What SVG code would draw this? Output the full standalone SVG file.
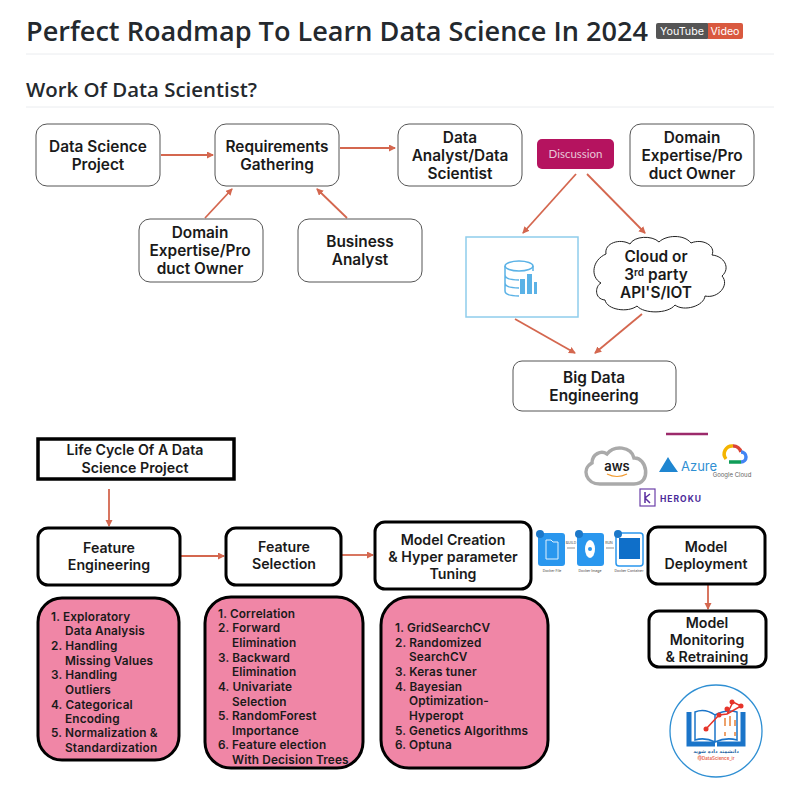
<svg xmlns="http://www.w3.org/2000/svg" width="800" height="800" viewBox="0 0 800 800">
<style>
text{font-family:"Inter","Liberation Sans","Noto Sans CJK SC",sans-serif;fill:#1a1a1a}
.h{font-family:"Open Sans","Liberation Sans",sans-serif;font-weight:600;fill:#24292e}
.t{font-size:15.4px;font-weight:600;text-anchor:middle}
.u{font-size:14.2px}
.l{font-size:11.8px;font-weight:600;letter-spacing:.15px}
.n1{fill:#fff;stroke:#555;stroke-width:1}
.n2{fill:#fff;stroke:#000;stroke-width:3}
.p{fill:#f086a6;stroke:#000;stroke-width:3}
.c{fill:none;stroke:#d4674f;stroke-width:1.800;marker-end:url(#a)}
.rule{stroke:#eaecef;stroke-width:1}
.s{font-size:3.5px;text-anchor:middle;fill:#444}
</style>
<defs>
<marker id="a" markerWidth="8" markerHeight="8" refX="6" refY="3.500" orient="auto" markerUnits="userSpaceOnUse"><path d="M0 0L7 3.500L0 7Z" fill="#d4674f"/></marker>
</defs>
<rect width="800" height="800" fill="#fff"/>
<g id="header">
<text class="h" x="26" y="41" font-size="27.500" textLength="622" lengthAdjust="spacingAndGlyphs">Perfect Roadmap To Learn Data Science In 2024</text>
<rect x="656" y="23" width="53" height="16" rx="2" fill="#555"/>
<path d="M708 23h33a2 2 0 0 1 2 2v12a2 2 0 0 1-2 2h-33z" fill="#d9593f"/>
<text x="682" y="35" font-size="10.500" text-anchor="middle" style="fill:#fff" textLength="44" lengthAdjust="spacingAndGlyphs">YouTube</text>
<text x="725" y="35" font-size="10.500" text-anchor="middle" style="fill:#fff" textLength="29" lengthAdjust="spacingAndGlyphs">Video</text>
<line class="rule" x1="26" y1="54" x2="774" y2="54"/>
<text class="h" x="26" y="97" font-size="20" textLength="231" lengthAdjust="spacingAndGlyphs">Work Of Data Scientist?</text>
<line class="rule" x1="26" y1="107" x2="774" y2="107"/>
</g>
<g id="connectors">
<line class="c" x1="161" y1="155" x2="213" y2="155"/>
<line class="c" x1="340" y1="148" x2="395" y2="148"/>
<line class="c" x1="205" y1="218" x2="232" y2="189"/>
<line class="c" x1="347" y1="218" x2="317" y2="189"/>
<line class="c" x1="576" y1="174" x2="523" y2="233"/>
<line class="c" x1="587" y1="174" x2="645" y2="233"/>
<line class="c" x1="515" y1="319" x2="575" y2="353"/>
<line class="c" x1="642" y1="314" x2="595" y2="353"/>
<line class="c" x1="109" y1="489" x2="109" y2="526"/>
<line class="c" x1="181" y1="556" x2="224" y2="556"/>
<line class="c" x1="342" y1="555" x2="373" y2="555"/>
<line class="c" x1="708" y1="585" x2="708" y2="609"/>
</g>
<g id="data-science-project"><rect class="n1" x="36" y="124" width="124" height="62" rx="11"/><text class="t" x="98" y="152">Data Science</text><text class="t" x="98" y="170">Project</text></g>
<g id="requirements"><rect class="n1" x="215" y="124" width="124" height="62" rx="11"/><text class="t" x="277" y="152">Requirements</text><text class="t" x="277" y="170">Gathering</text></g>
<g id="analyst"><rect class="n1" x="398" y="124" width="124" height="62" rx="11"/><text class="t" x="460" y="143">Data</text><text class="t" x="460" y="161">Analyst/Data</text><text class="t" x="460" y="179">Scientist</text></g>
<g id="discussion"><rect x="537" y="139" width="77" height="30" rx="5" fill="#b5135f"/><text x="575.500" y="158" font-size="11.500" text-anchor="middle" style="fill:#e8c7d8;font-family:'Lato','Liberation Sans',sans-serif">Discussion</text></g>
<g id="domain-top"><rect class="n1" x="630" y="124" width="124" height="62" rx="11"/><text class="t" x="692" y="143">Domain</text><text class="t" x="692" y="161">Expertise/Pro</text><text class="t" x="692" y="179">duct Owner</text></g>
<g id="domain-bottom"><rect class="n1" x="139" y="219" width="124" height="63" rx="11"/><text class="t" x="200" y="238">Domain</text><text class="t" x="200" y="256">Expertise/Pro</text><text class="t" x="200" y="274">duct Owner</text></g>
<g id="business"><rect class="n1" x="298" y="219" width="124" height="63" rx="11"/><text class="t" x="360" y="247">Business</text><text class="t" x="360" y="265">Analyst</text></g>
<g id="data-store"><rect x="466" y="237" width="112" height="80" fill="#fff" stroke="#8fcdec" stroke-width="1.500"/>
<g fill="none" stroke="#5bb2e6" stroke-width="1.500"><ellipse cx="519" cy="266" rx="14" ry="5"/><path d="M505 266v25q0 5 14 5M505 275q0 5 14 5M505 283q0 5 14 5M533 266v5"/></g>
<path d="M520 279h5v15h-5zM527 274h5v20h-5zM534 282h3v12h-3z" fill="#5bb2e6"/></g>
<g id="cloud"><path d="M606 254C604 243 620 238 630 244C634 236 652 235 659 242C666 235 684 234 691 243C703 238 716 246 712 255C724 256 731 268 722 276C730 285 718 299 705 296C704 306 684 312 675 305C668 314 644 314 637 306C628 313 607 310 605 300C594 299 595 286 601 283C590 277 592 260 606 254Z" fill="#fff" stroke="#222" stroke-width="1"/>
<text class="t" x="656" y="262">Cloud or</text><text class="t" x="656" y="280" id="third">3<tspan font-size="10" dy="-4">rd</tspan><tspan dy="4"> party</tspan></text><text class="t" x="656" y="298">API'S/IOT</text></g>
<g id="big-data"><rect class="n1" x="513" y="361" width="163" height="50" rx="9"/><text class="t" x="594" y="383">Big Data</text><text class="t" x="594" y="401">Engineering</text></g>
<g id="life-cycle"><rect x="38" y="439" width="196" height="40" fill="#fff" stroke="#000" stroke-width="3.500"/><text class="t u" x="135" y="455">Life Cycle Of A Data</text><text class="t u" x="135" y="473">Science Project</text></g>
<g id="feature-engineering"><rect class="n2" x="38" y="528" width="142" height="57" rx="10"/><text class="t u" x="109" y="553">Feature</text><text class="t u" x="109" y="570">Engineering</text></g>
<g id="feature-selection"><rect class="n2" x="226" y="528" width="115" height="57" rx="10"/><text class="t u" x="284" y="552">Feature</text><text class="t u" x="284" y="569">Selection</text></g>
<g id="model-creation"><rect class="n2" x="375" y="522" width="156" height="67" rx="10"/><text class="t u" x="453" y="545">Model Creation</text><text class="t u" x="453" y="562">&amp; Hyper parameter</text><text class="t u" x="453" y="579">Tuning</text></g>
<g id="model-deployment"><rect class="n2" x="648" y="527" width="117" height="57" rx="10"/><text class="t u" x="706" y="552">Model</text><text class="t u" x="706" y="569">Deployment</text></g>
<g id="model-monitoring"><rect class="n2" x="649" y="611" width="117" height="56" rx="10"/><text class="t u" x="707" y="628">Model</text><text class="t u" x="707" y="645">Monitoring</text><text class="t u" x="707" y="662">&amp; Retraining</text></g>
<g id="list-1"><rect class="p" x="38" y="598" width="141" height="162" rx="24"/>
<text class="l" x="51" y="621">1. Exploratory</text><text class="l" x="65" y="635">Data Analysis</text><text class="l" x="51" y="650">2. Handling</text><text class="l" x="65" y="665">Missing Values</text><text class="l" x="51" y="679">3. Handling</text><text class="l" x="65" y="694">Outliers</text><text class="l" x="51" y="709">4. Categorical</text><text class="l" x="65" y="723">Encoding</text><text class="l" x="51" y="737">5. Normalization &amp;</text><text class="l" x="65" y="752">Standardization</text></g>
<g id="list-2"><rect class="p" x="205" y="597" width="158" height="171" rx="26"/>
<text class="l" x="218" y="618">1. Correlation</text><text class="l" x="218" y="632">2. Forward</text><text class="l" x="232" y="647">Elimination</text><text class="l" x="218" y="662">3. Backward</text><text class="l" x="232" y="676">Elimination</text><text class="l" x="218" y="691">4. Univariate</text><text class="l" x="232" y="706">Selection</text><text class="l" x="218" y="720">5. RandomForest</text><text class="l" x="232" y="735">Importance</text><text class="l" x="218" y="749">6. Feature election</text><text class="l" x="232" y="764">With Decision Trees</text></g>
<g id="list-3"><rect class="p" x="381" y="597" width="167" height="171" rx="28"/>
<text class="l" x="395" y="632">1. GridSearchCV</text><text class="l" x="395" y="647">2. Randomized</text><text class="l" x="409" y="661">SearchCV</text><text class="l" x="395" y="676">3. Keras tuner</text><text class="l" x="395" y="691">4. Bayesian</text><text class="l" x="409" y="705">Optimization-</text><text class="l" x="409" y="720">Hyperopt</text><text class="l" x="395" y="735">5. Genetics Algorithms</text><text class="l" x="395" y="749">6. Optuna</text></g>
<g id="cloud-logos">
<line x1="666" y1="434" x2="708" y2="434" stroke="#9c2a6b" stroke-width="2.500"/>
<path d="M600 484c-14 0-19-15-8-21 0-9 9-13 15-9 7-9 24-8 27 4 13-1 18 26 0 26z" fill="#fff" stroke="#aaa" stroke-width="3.500"/>
<text x="617" y="471" font-size="13" font-weight="600" text-anchor="middle">aws</text>
<path d="M607 474q10 5 20 0" fill="none" stroke="#f29a2e" stroke-width="1.200"/>
<path d="M659 472l9-15 3 5 7 10z" fill="#1f86d1"/>
<text x="681" y="471" font-size="13" style="fill:#2f8fd3">Azure</text>
<text x="732" y="477" font-size="6" text-anchor="middle" style="fill:#666">Google Cloud</text>
<path d="M726 459a8 8 0 0 1 7-13" fill="none" stroke="#f4b400" stroke-width="3.500"/><path d="M733 446a8 8 0 0 1 8 6" fill="none" stroke="#db4437" stroke-width="3.500"/><path d="M741 452a5 5 0 0 1 0 10" fill="none" stroke="#4285f4" stroke-width="3.500"/><path d="M729 462h12" fill="none" stroke="#0f9d58" stroke-width="3.500"/>
<rect x="640" y="489" width="15" height="17" fill="#fff" stroke="#6b3fa8" stroke-width="1.200"/>
<path d="M645 492v11M645 498l5-4M645 498l5 5" fill="none" stroke="#5a2d9e" stroke-width="1.500"/>
<text x="660" y="502" font-size="8.500" font-weight="700" letter-spacing="1" style="fill:#4b2a9a">HEROKU</text>
</g>
<g id="docker">
<rect x="538" y="533" width="27" height="33" rx="3" fill="#2a97ee"/>
<path d="M546 540h5l2 2h5v17h-12z" fill="none" stroke="#dff0fd" stroke-width="1"/>
<circle cx="540" cy="534" r="4" fill="#1c78c9"/>
<rect x="577" y="533" width="27" height="33" rx="3" fill="#2a97ee"/>
<ellipse cx="590" cy="549" rx="5" ry="9" fill="#fff"/><circle cx="590" cy="549" r="2" fill="#2a97ee"/>
<circle cx="579" cy="534" r="4" fill="#1c78c9"/>
<rect x="616" y="533" width="27" height="33" rx="3" fill="#fff" stroke="#2a97ee" stroke-width="1.500"/>
<rect x="619" y="538" width="21" height="21" fill="#0f6fc9"/>
<circle cx="618" cy="534" r="4" fill="#1c78c9"/>
<path d="M567 548h8M606 548h8" stroke="#666" stroke-width="0.700"/>
<text class="s" x="571" y="544">BUILD</text><text class="s" x="609" y="544">RUN</text>
<text class="s" x="552" y="572">Docker File</text><text class="s" x="590" y="572">Docker Image</text><text class="s" x="629" y="572">Docker Container</text>
</g>
<g id="logo">
<circle cx="716" cy="731" r="46" fill="#fff" stroke="#2f8fd3" stroke-width="1.300"/>
<path d="M689 712v32h26M743 712v32h-26" fill="none" stroke="#1b75c9" stroke-width="5"/>
<path d="M715 715q-10-7-20-3v28q10-3 20 2q11-5 22-2v-28q-11-3-22 3zM715 715v27" fill="#fff" stroke="#1b75c9" stroke-width="1.500"/>
<path d="M706 729l13-14 8-1 6-12 8 4-14 8" fill="none" stroke="#e6342a" stroke-width="1.500"/>
<g fill="#e6342a"><circle cx="706" cy="729" r="2.500"/><circle cx="719" cy="715" r="2.500"/><circle cx="727" cy="709" r="2.500"/><circle cx="732" cy="702" r="2.500"/><circle cx="741" cy="706" r="2.500"/></g>
<path d="M725 718v8M730 716v10M735 720v6M725 732v4M735 732v4" stroke="#e8833a" stroke-width="1.500"/>
<text x="716" y="753" font-size="5" font-weight="700" text-anchor="middle" style="fill:#1b5fa0;font-family:'DejaVu Sans',sans-serif">دانشمند داده شوید</text>
<text x="716" y="760" font-size="4.500" font-weight="600" text-anchor="middle" style="fill:#e8634a">@DataScience_ir</text>
</g>
</svg>
